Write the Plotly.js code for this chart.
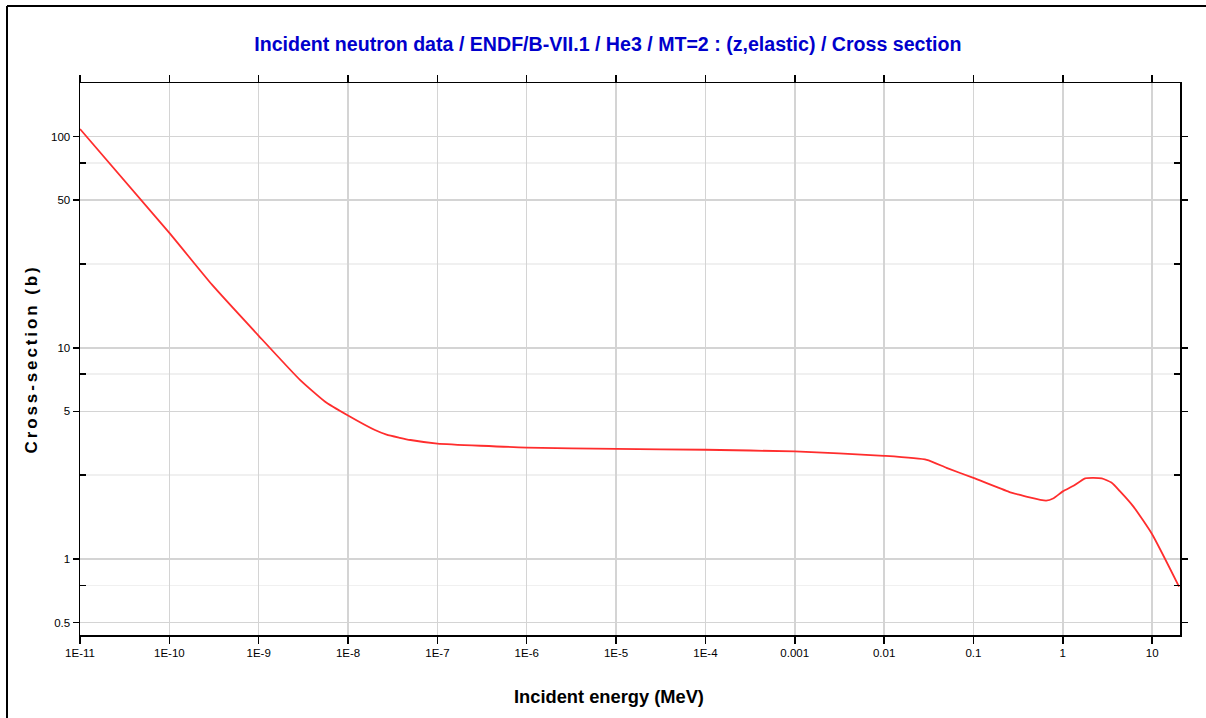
<!DOCTYPE html>
<html>
<head>
<meta charset="utf-8">
<script src="https://cdn.plot.ly/plotly-3.0.1.min.js"></script>
<style>
html,body{margin:0;padding:0;background:#fff;}
#chart{width:1206px;height:718px;}
.g-ytitle text{letter-spacing:2.9px;}
</style>
</head>
<body>
<div id="chart"></div>
<script>
// Incident energy (MeV)
const energy = [1e-11, 1e-10, 3e-10, 1e-9, 2.9e-9, 5.5e-9, 1e-8, 2e-8, 2.7e-8, 3.8e-8, 5e-8, 1e-7, 1e-6, 1e-5, 1e-4, 1e-3, 1e-2, 3e-2, 5e-2, 1e-1, 0.25, 0.333, 0.4, 0.65, 0.79, 1, 1.32, 1.78, 2.73, 3.5, 4.38, 6.18, 10, 20];
// Cross-section (b)
const sigma = [108.7, 35.0, 19.9, 11.4, 7.05, 5.57, 4.78, 4.08, 3.88, 3.75, 3.66, 3.52, 3.37, 3.32, 3.29, 3.23, 3.08, 2.95, 2.70, 2.42, 2.08, 2.01, 1.97, 1.89, 1.94, 2.09, 2.22, 2.41, 2.41, 2.30, 2.09, 1.77, 1.31, 0.74];

const xTickVals = [1e-11, 1e-10, 1e-9, 1e-8, 1e-7, 1e-6, 1e-5, 1e-4, 1e-3, 1e-2, 1e-1, 1, 10];
const xTickText = ["1E-11", "1E-10", "1E-9", "1E-8", "1E-7", "1E-6", "1E-5", "1E-4", "0.001", "0.01", "0.1", "1", "10"];
const yTickVals = [0.5, 1, 5, 10, 50, 100];
const yTickText = ["0.5", "1", "5", "10", "50", "100"];
const yMinorVals = [0.75, 2.5, 7.5, 25, 75];

const sansFont = '"Liberation Sans", Arial, sans-serif';
const tickFont = {family: sansFont, size: 11.5, color: '#000'};

const trace = {
  x: energy, y: sigma, type: 'scatter', mode: 'lines',
  line: {color: '#ff2d2d', width: 1.8, shape: 'spline', smoothing: 0.5},
  hoverinfo: 'x+y'
};

const layout = {
  width: 1206, height: 718,
  margin: {l: 80, r: 26, t: 83, b: 83},
  paper_bgcolor: '#fff', plot_bgcolor: '#fff',
  showlegend: false,
  title: {
    text: 'Incident neutron data / ENDF/B-VII.1 / He3 / MT=2 : (z,elastic) / Cross section',
    font: {family: sansFont, size: 19.6, color: '#0000cc', weight: 'bold'},
    xref: 'container', x: 0.504, xanchor: 'center',
    yref: 'container', y: 1 - 44/718, yanchor: 'middle'
  },
  xaxis: {
    type: 'log', range: [-11, 1.312],
    tickmode: 'array', tickvals: xTickVals, ticktext: xTickText,
    tickfont: tickFont, ticks: 'outside', ticklen: 7, tickwidth: 1.5, tickcolor: '#000',
    showline: true, linecolor: '#000', linewidth: 1.5, mirror: 'ticks',
    showgrid: true, gridcolor: '#d4d4d4', gridwidth: 1.5,
    zeroline: false
  },
  yaxis: {
    type: 'log', range: [-0.360, 2.254],
    tickmode: 'array', tickvals: yTickVals, ticktext: yTickText,
    tickfont: tickFont, ticks: 'outside', ticklen: 6, tickwidth: 1.5, tickcolor: '#000',
    showline: true, linecolor: '#000', linewidth: 1.5, mirror: 'ticks',
    showgrid: true, gridcolor: '#d4d4d4', gridwidth: 1.5,
    zeroline: false,
    minor: {tickmode: 'array', tickvals: yMinorVals, ticks: 'inside', ticklen: 6, tickwidth: 1.5, tickcolor: '#000', showgrid: true, gridcolor: '#f0f0f0', gridwidth: 1.5},
    title: {text: 'Cross-section (b)', font: {family: sansFont, size: 17, color: '#000', weight: 'bold'}, standoff: 9}
  },
  annotations: [
    {text: 'Incident energy (MeV)', xref: 'paper', yref: 'paper', x: 529/1100, y: -61/552,
     xanchor: 'center', yanchor: 'middle', showarrow: false,
     font: {family: sansFont, size: 18.3, color: '#000', weight: 'bold'}}
  ],
  shapes: [
    {type: 'line', xref: 'paper', yref: 'paper', x0: -73/1100, x1: 1126/1100, y0: 629/552, y1: 629/552, line: {color: '#000', width: 2}},
    {type: 'line', xref: 'paper', yref: 'paper', x0: -73/1100, x1: -73/1100, y0: 629/552, y1: -90/552, line: {color: '#000', width: 2}}
  ]
};

Plotly.newPlot('chart', [trace], layout, {displayModeBar: false, staticPlot: true});
</script>
</body>
</html>
